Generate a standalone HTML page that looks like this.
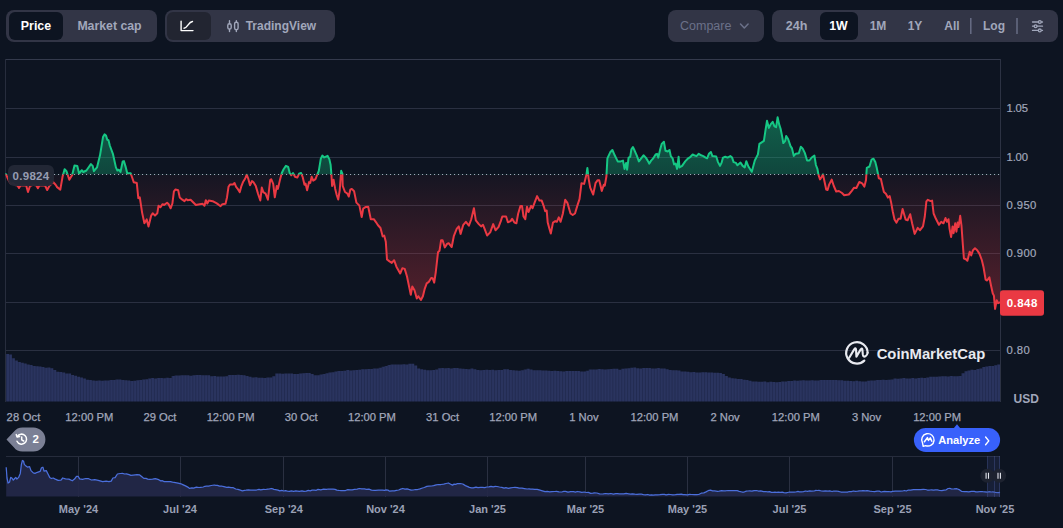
<!DOCTYPE html>
<html><head><meta charset="utf-8"><title>Chart</title>
<style>
*{box-sizing:border-box;margin:0;padding:0}
html,body{width:1063px;height:528px;overflow:hidden;background:#0d1421;font-family:"Liberation Sans",sans-serif;}
#root{position:relative;width:1063px;height:528px;background:#0d1421;color:#a1a7bb;}
.grp{position:absolute;top:10px;height:32px;background:#323546;border-radius:8px;}
.btn{position:absolute;top:2px;height:28px;border-radius:6px;font-size:12px;font-weight:bold;color:#a1a7bb;line-height:28px;text-align:center;white-space:nowrap;}
.btn.on{background:#0d1421;color:#fff;}
.yl{position:absolute;left:1006.5px;font-size:11.3px;line-height:16px;height:16px;color:#a1a7bb;letter-spacing:0.4px;-webkit-text-stroke:0.2px #a1a7bb}
.xl{position:absolute;top:409px;font-size:11.2px;-webkit-text-stroke:0.25px #a1a7bb;line-height:16px;color:#a1a7bb;transform:translateX(-50%);white-space:nowrap}
.ml{position:absolute;top:501px;font-size:11px;font-weight:bold;line-height:16px;color:#9aa0b5;transform:translateX(-50%);white-space:nowrap}
svg{position:absolute;left:0;top:0}
</style></head><body><div id="root">

<!-- toolbar -->
<div class="grp" style="left:6px;width:151px">
  <div class="btn on" style="left:3px;width:54px;font-size:12.4px">Price</div>
  <div class="btn" style="left:59.5px;width:88px;font-size:12.3px">Market cap</div>
</div>
<div class="grp" style="left:165px;width:170px">
  <div class="btn" style="left:2px;width:44px;background:#222531"></div>
  <div class="btn" style="left:80.7px;width:80px;text-align:left">TradingView</div>
</div>
<div class="grp" style="left:668px;width:96px">
  <div class="btn" style="left:12px;width:56px;font-weight:normal;color:#6b7189;text-align:left;font-size:12.5px">Compare</div>
</div>
<div class="grp" style="left:772px;width:286px">
  <div class="btn" style="left:5.5px;width:38px;font-size:12.6px">24h</div>
  <div class="btn on" style="left:47.5px;width:38px;font-size:12.3px">1W</div>
  <div class="btn" style="left:87px;width:38px">1M</div>
  <div class="btn" style="left:124px;width:38px">1Y</div>
  <div class="btn" style="left:161px;width:38px">All</div>
  <div class="btn" style="left:202px;width:40px">Log</div>
</div>

<svg width="1063" height="528" viewBox="0 0 1063 528">
<defs>
  <linearGradient id="gg" x1="0" y1="117" x2="0" y2="174.4" gradientUnits="userSpaceOnUse">
    <stop offset="0" stop-color="#16c784" stop-opacity="0.42"/>
    <stop offset="1" stop-color="#16c784" stop-opacity="0.28"/>
  </linearGradient>
  <linearGradient id="rg" x1="0" y1="174.4" x2="0" y2="310" gradientUnits="userSpaceOnUse">
    <stop offset="0" stop-color="#ea3943" stop-opacity="0.04"/>
    <stop offset="1" stop-color="#ea3943" stop-opacity="0.33"/>
  </linearGradient>
  <clipPath id="up"><rect x="0" y="0" width="1063" height="174.4"/></clipPath>
  <clipPath id="dn"><rect x="0" y="174.4" width="1063" height="400"/></clipPath>
  <pattern id="bars" x="6" y="0" width="2.958" height="10" patternUnits="userSpaceOnUse">
    <rect x="0" y="0" width="2.958" height="10" fill="#2a345f"/>
    <rect x="0" y="0" width="0.9" height="10" fill="#212a50"/>
  </pattern>
</defs>
<!-- toolbar icons -->
<g fill="none" stroke="#fff" stroke-width="1.4" stroke-linecap="round" stroke-linejoin="round">
  <path d="M181.1 21.3 V30.6 H193"/>
  <path d="M184 28.3 C187.6 28 188.3 21.9 192.5 21.5"/>
</g>
<g fill="none" stroke="#a1a7bb" stroke-width="1.4" stroke-linecap="round">
  <rect x="227.8" y="23.8" width="3.4" height="5.3" rx="1.6"/>
  <path d="M229.5 20.8V23.8 M229.5 29.1V31.5"/>
  <rect x="234.6" y="22.2" width="3.5" height="7.5" rx="1.6"/>
  <path d="M236.35 20.8V22.2 M236.35 29.7V31.5"/>
</g>
<path d="M740.5 24 L744.3 28 L748.1 24" fill="none" stroke="#6b7189" stroke-width="1.5" stroke-linecap="round" stroke-linejoin="round"/>
<g stroke="#6b7189" stroke-width="1.4">
  <line x1="970.8" y1="18" x2="970.8" y2="34"/>
  <line x1="1017" y1="18" x2="1017" y2="34"/>
</g>
<g stroke="#a1a7bb" stroke-width="1.3" stroke-linecap="round" fill="#323546">
  <line x1="1032.5" y1="22" x2="1042.5" y2="22"/>
  <line x1="1032.5" y1="26.2" x2="1042.5" y2="26.2"/>
  <line x1="1032.5" y1="30.4" x2="1042.5" y2="30.4"/>
  <circle cx="1039.8" cy="22" r="1.4"/>
  <circle cx="1035.6" cy="26.2" r="1.4"/>
  <circle cx="1039.8" cy="30.4" r="1.4"/>
</g>

<!-- frame + grid -->
<g stroke="#2a3041" stroke-width="1" shape-rendering="crispEdges">
  <line x1="6" x2="1000.5" y1="108.5" y2="108.5"/><line x1="6" x2="1000.5" y1="157.5" y2="157.5"/><line x1="6" x2="1000.5" y1="205.5" y2="205.5"/><line x1="6" x2="1000.5" y1="253.5" y2="253.5"/><line x1="6" x2="1000.5" y1="302.5" y2="302.5"/><line x1="6" x2="1000.5" y1="350.5" y2="350.5"/>
</g>
<g stroke="#323849" stroke-width="1" shape-rendering="crispEdges">
  <line x1="5" x2="1001" y1="59.5" y2="59.5" stroke="#343a4c"/>
  <line x1="5.5" x2="5.5" y1="59" y2="402" stroke="#272d3d"/>
  <line x1="1000.5" x2="1000.5" y1="59" y2="402" stroke="#2c3243"/>
</g>

<!-- volume -->
<path d="M6.00,401.5 L6.00,354.0 L8.96,354.0 L8.96,354.6 L11.92,354.6 L11.92,358.2 L14.88,358.2 L14.88,360.6 L17.83,360.6 L17.83,361.9 L20.79,361.9 L20.79,362.8 L23.75,362.8 L23.75,363.5 L26.71,363.5 L26.71,364.6 L29.67,364.6 L29.67,365.0 L32.62,365.0 L32.62,366.0 L35.58,366.0 L35.58,366.2 L38.54,366.2 L38.54,366.5 L41.50,366.5 L41.50,367.1 L44.46,367.1 L44.46,367.7 L47.42,367.7 L47.42,367.5 L50.38,367.5 L50.38,368.2 L53.33,368.2 L53.33,370.0 L56.29,370.0 L56.29,371.7 L59.25,371.7 L59.25,372.0 L62.21,372.0 L62.21,372.5 L65.17,372.5 L65.17,373.5 L68.12,373.5 L68.12,373.4 L71.08,373.4 L71.08,375.0 L74.04,375.0 L74.04,375.7 L77.00,375.7 L77.00,376.7 L79.96,376.7 L79.96,377.6 L82.92,377.6 L82.92,378.6 L85.88,378.6 L85.88,379.7 L88.83,379.7 L88.83,380.1 L91.79,380.1 L91.79,380.6 L94.75,380.6 L94.75,380.7 L97.71,380.7 L97.71,380.6 L100.67,380.6 L100.67,380.7 L103.62,380.7 L103.62,380.5 L106.58,380.5 L106.58,380.4 L109.54,380.4 L109.54,380.1 L112.50,380.1 L112.50,380.1 L115.46,380.1 L115.46,379.5 L118.42,379.5 L118.42,379.6 L121.38,379.6 L121.38,380.1 L124.33,380.1 L124.33,380.3 L127.29,380.3 L127.29,380.5 L130.25,380.5 L130.25,380.9 L133.21,380.9 L133.21,380.8 L136.17,380.8 L136.17,380.3 L139.13,380.3 L139.12,380.0 L142.08,380.0 L142.08,379.5 L145.04,379.5 L145.04,379.2 L148.00,379.2 L148.00,378.6 L150.96,378.6 L150.96,378.1 L153.92,378.1 L153.92,378.6 L156.88,378.6 L156.88,377.9 L159.83,377.9 L159.83,378.1 L162.79,378.1 L162.79,378.3 L165.75,378.3 L165.75,377.8 L168.71,377.8 L168.71,377.9 L171.67,377.9 L171.67,376.1 L174.63,376.1 L174.62,375.6 L177.58,375.6 L177.58,375.5 L180.54,375.5 L180.54,375.2 L183.50,375.2 L183.50,375.3 L186.46,375.3 L186.46,375.3 L189.42,375.3 L189.42,375.8 L192.38,375.8 L192.38,375.2 L195.33,375.2 L195.33,375.1 L198.29,375.1 L198.29,375.0 L201.25,375.0 L201.25,375.2 L204.21,375.2 L204.21,375.3 L207.17,375.3 L207.17,375.3 L210.13,375.3 L210.12,376.2 L213.08,376.2 L213.08,376.0 L216.04,376.0 L216.04,376.4 L219.00,376.4 L219.00,376.4 L221.96,376.4 L221.96,376.6 L224.92,376.6 L224.92,376.2 L227.88,376.2 L227.88,375.0 L230.83,375.0 L230.83,374.9 L233.79,374.9 L233.79,375.1 L236.75,375.1 L236.75,374.7 L239.71,374.7 L239.71,375.0 L242.67,375.0 L242.67,375.2 L245.63,375.2 L245.62,376.0 L248.58,376.0 L248.58,376.7 L251.54,376.7 L251.54,377.5 L254.50,377.5 L254.50,377.3 L257.46,377.3 L257.46,377.7 L260.42,377.7 L260.42,377.8 L263.38,377.8 L263.38,378.1 L266.33,378.1 L266.33,377.4 L269.29,377.4 L269.29,377.5 L272.25,377.5 L272.25,376.2 L275.21,376.2 L275.21,373.6 L278.17,373.6 L278.17,373.6 L281.12,373.6 L281.12,373.7 L284.08,373.7 L284.08,373.4 L287.04,373.4 L287.04,373.5 L290.00,373.5 L290.00,373.6 L292.96,373.6 L292.96,374.0 L295.92,374.0 L295.92,374.1 L298.88,374.1 L298.88,373.4 L301.83,373.4 L301.83,373.2 L304.79,373.2 L304.79,373.1 L307.75,373.1 L307.75,372.9 L310.71,372.9 L310.71,374.0 L313.67,374.0 L313.67,375.3 L316.62,375.3 L316.62,375.3 L319.58,375.3 L319.58,374.5 L322.54,374.5 L322.54,374.1 L325.50,374.1 L325.50,373.3 L328.46,373.3 L328.46,372.6 L331.42,372.6 L331.42,372.2 L334.38,372.2 L334.38,371.4 L337.33,371.4 L337.33,371.0 L340.29,371.0 L340.29,370.9 L343.25,370.9 L343.25,370.7 L346.21,370.7 L346.21,370.1 L349.17,370.1 L349.17,370.5 L352.12,370.5 L352.12,370.2 L355.08,370.2 L355.08,370.0 L358.04,370.0 L358.04,369.7 L361.00,369.7 L361.00,369.3 L363.96,369.3 L363.96,369.2 L366.92,369.2 L366.92,368.9 L369.88,368.9 L369.88,369.1 L372.83,369.1 L372.83,368.6 L375.79,368.6 L375.79,368.5 L378.75,368.5 L378.75,367.8 L381.71,367.8 L381.71,366.8 L384.67,366.8 L384.67,366.1 L387.62,366.1 L387.62,365.0 L390.58,365.0 L390.58,364.6 L393.54,364.6 L393.54,364.6 L396.50,364.6 L396.50,364.5 L399.46,364.5 L399.46,364.5 L402.42,364.5 L402.42,364.2 L405.38,364.2 L405.38,364.4 L408.33,364.4 L408.33,363.7 L411.29,363.7 L411.29,363.7 L414.25,363.7 L414.25,365.6 L417.21,365.6 L417.21,368.6 L420.17,368.6 L420.17,369.3 L423.12,369.3 L423.12,369.7 L426.08,369.7 L426.08,370.2 L429.04,370.2 L429.04,370.3 L432.00,370.3 L432.00,370.0 L434.96,370.0 L434.96,369.5 L437.92,369.5 L437.92,368.2 L440.88,368.2 L440.88,368.0 L443.83,368.0 L443.83,368.2 L446.79,368.2 L446.79,368.1 L449.75,368.1 L449.75,368.5 L452.71,368.5 L452.71,368.1 L455.67,368.1 L455.67,368.0 L458.62,368.0 L458.62,368.6 L461.58,368.6 L461.58,368.8 L464.54,368.8 L464.54,369.0 L467.50,369.0 L467.50,369.3 L470.46,369.3 L470.46,368.5 L473.42,368.5 L473.42,369.2 L476.38,369.2 L476.38,370.0 L479.33,370.0 L479.33,370.3 L482.29,370.3 L482.29,370.1 L485.25,370.1 L485.25,369.8 L488.21,369.8 L488.21,369.9 L491.17,369.9 L491.17,369.8 L494.12,369.8 L494.12,370.2 L497.08,370.2 L497.08,370.0 L500.04,370.0 L500.04,370.0 L503.00,370.0 L503.00,369.3 L505.96,369.3 L505.96,369.3 L508.92,369.3 L508.92,369.9 L511.88,369.9 L511.88,370.3 L514.83,370.3 L514.83,370.5 L517.79,370.5 L517.79,370.7 L520.75,370.7 L520.75,370.2 L523.71,370.2 L523.71,369.5 L526.67,369.5 L526.67,368.8 L529.63,368.8 L529.62,369.6 L532.58,369.6 L532.58,370.2 L535.54,370.2 L535.54,370.2 L538.50,370.2 L538.50,370.2 L541.46,370.2 L541.46,370.5 L544.42,370.5 L544.42,370.5 L547.38,370.5 L547.38,370.8 L550.33,370.8 L550.33,371.0 L553.29,371.0 L553.29,370.7 L556.25,370.7 L556.25,371.1 L559.21,371.1 L559.21,371.3 L562.17,371.3 L562.17,371.4 L565.13,371.4 L565.12,371.1 L568.08,371.1 L568.08,371.1 L571.04,371.1 L571.04,371.1 L574.00,371.1 L574.00,371.1 L576.96,371.1 L576.96,371.1 L579.92,371.1 L579.92,371.4 L582.88,371.4 L582.88,371.6 L585.83,371.6 L585.83,370.7 L588.79,370.7 L588.79,369.5 L591.75,369.5 L591.75,369.5 L594.71,369.5 L594.71,369.5 L597.67,369.5 L597.67,369.0 L600.63,369.0 L600.62,369.3 L603.58,369.3 L603.58,369.4 L606.54,369.4 L606.54,369.2 L609.50,369.2 L609.50,369.1 L612.46,369.1 L612.46,368.8 L615.42,368.8 L615.42,368.8 L618.38,368.8 L618.38,369.7 L621.33,369.7 L621.33,368.7 L624.29,368.7 L624.29,368.4 L627.25,368.4 L627.25,368.3 L630.21,368.3 L630.21,367.7 L633.17,367.7 L633.17,367.5 L636.13,367.5 L636.12,368.2 L639.08,368.2 L639.08,368.5 L642.04,368.5 L642.04,368.1 L645.00,368.1 L645.00,368.0 L647.96,368.0 L647.96,368.1 L650.92,368.1 L650.92,368.6 L653.88,368.6 L653.88,368.5 L656.83,368.5 L656.83,368.1 L659.79,368.1 L659.79,368.5 L662.75,368.5 L662.75,368.6 L665.71,368.6 L665.71,369.2 L668.67,369.2 L668.67,369.9 L671.63,369.9 L671.62,370.3 L674.58,370.3 L674.58,370.3 L677.54,370.3 L677.54,370.6 L680.50,370.6 L680.50,371.5 L683.46,371.5 L683.46,371.6 L686.42,371.6 L686.42,371.8 L689.38,371.8 L689.38,372.3 L692.33,372.3 L692.33,372.1 L695.29,372.1 L695.29,372.5 L698.25,372.5 L698.25,372.5 L701.21,372.5 L701.21,372.2 L704.17,372.2 L704.17,372.3 L707.13,372.3 L707.12,372.4 L710.08,372.4 L710.08,372.5 L713.04,372.5 L713.04,372.8 L716.00,372.8 L716.00,372.7 L718.96,372.7 L718.96,373.1 L721.92,373.1 L721.92,374.1 L724.88,374.1 L724.88,376.1 L727.83,376.1 L727.83,377.5 L730.79,377.5 L730.79,378.2 L733.75,378.2 L733.75,378.6 L736.71,378.6 L736.71,379.1 L739.67,379.1 L739.67,379.1 L742.63,379.1 L742.62,379.7 L745.58,379.7 L745.58,380.0 L748.54,380.0 L748.54,380.7 L751.50,380.7 L751.50,381.4 L754.46,381.4 L754.46,381.5 L757.42,381.5 L757.42,381.8 L760.38,381.8 L760.38,381.7 L763.33,381.7 L763.33,381.6 L766.29,381.6 L766.29,382.2 L769.25,382.2 L769.25,381.8 L772.21,381.8 L772.21,382.0 L775.17,382.0 L775.17,382.2 L778.13,382.2 L778.12,382.0 L781.08,382.0 L781.08,381.6 L784.04,381.6 L784.04,381.4 L787.00,381.4 L787.00,381.0 L789.96,381.0 L789.96,381.0 L792.92,381.0 L792.92,380.4 L795.88,380.4 L795.88,380.7 L798.83,380.7 L798.83,380.4 L801.79,380.4 L801.79,380.3 L804.75,380.3 L804.75,380.6 L807.71,380.6 L807.71,380.4 L810.67,380.4 L810.67,380.3 L813.63,380.3 L813.62,380.4 L816.58,380.4 L816.58,380.4 L819.54,380.4 L819.54,380.1 L822.50,380.1 L822.50,380.1 L825.46,380.1 L825.46,380.0 L828.42,380.0 L828.42,380.0 L831.38,380.0 L831.38,380.1 L834.33,380.1 L834.33,380.0 L837.29,380.0 L837.29,380.2 L840.25,380.2 L840.25,380.3 L843.21,380.3 L843.21,380.8 L846.17,380.8 L846.17,380.7 L849.13,380.7 L849.12,381.0 L852.08,381.0 L852.08,381.2 L855.04,381.2 L855.04,380.8 L858.00,380.8 L858.00,381.2 L860.96,381.2 L860.96,381.6 L863.92,381.6 L863.92,381.4 L866.88,381.4 L866.88,380.7 L869.83,380.7 L869.83,380.5 L872.79,380.5 L872.79,380.6 L875.75,380.6 L875.75,380.1 L878.71,380.1 L878.71,380.1 L881.67,380.1 L881.67,379.8 L884.63,379.8 L884.62,380.0 L887.58,380.0 L887.58,379.7 L890.54,379.7 L890.54,379.5 L893.50,379.5 L893.50,378.6 L896.46,378.6 L896.46,378.7 L899.42,378.7 L899.42,378.4 L902.38,378.4 L902.38,378.0 L905.33,378.0 L905.33,378.5 L908.29,378.5 L908.29,378.5 L911.25,378.5 L911.25,377.9 L914.21,377.9 L914.21,378.4 L917.17,378.4 L917.17,377.9 L920.13,377.9 L920.12,377.8 L923.08,377.8 L923.08,377.9 L926.04,377.9 L926.04,377.5 L929.00,377.5 L929.00,376.7 L931.96,376.7 L931.96,376.8 L934.92,376.8 L934.92,376.7 L937.88,376.7 L937.88,376.5 L940.83,376.5 L940.83,376.2 L943.79,376.2 L943.79,376.2 L946.75,376.2 L946.75,376.5 L949.71,376.5 L949.71,376.0 L952.67,376.0 L952.67,376.3 L955.63,376.3 L955.62,376.3 L958.58,376.3 L958.58,375.9 L961.54,375.9 L961.54,373.2 L964.50,373.2 L964.50,371.2 L967.46,371.2 L967.46,370.6 L970.42,370.6 L970.42,369.8 L973.38,369.8 L973.38,369.9 L976.33,369.9 L976.33,369.0 L979.29,369.0 L979.29,368.4 L982.25,368.4 L982.25,367.0 L985.21,367.0 L985.21,366.6 L988.17,366.6 L988.17,366.0 L991.13,366.0 L991.12,366.1 L994.08,366.1 L994.08,365.2 L997.04,365.2 L997.04,364.4 L1000.00,364.4 L1000.00,401.5 Z" fill="url(#bars)"/>

<!-- area fills -->
<path d="M6.0,174.2 L7.3,177.3 L9.0,181.0 L11.0,184.0 L13.0,183.0 L15.0,185.0 L17.5,185.5 L19.0,188.0 L20.5,185.5 L25.0,185.2 L26.3,186.0 L28.0,192.0 L30.0,186.0 L33.0,184.8 L36.4,185.5 L37.9,188.3 L39.5,185.3 L45.0,185.5 L47.2,190.0 L49.5,185.8 L50.5,185.0 L52.8,181.8 L55.6,184.8 L57.1,187.1 L60.3,189.6 L62.6,176.5 L64.6,169.2 L66.5,171.2 L69.3,179.7 L72.2,175.0 L74.5,165.6 L77.3,165.9 L79.1,173.5 L81.8,170.2 L83.3,172.0 L86.4,170.5 L90.9,164.1 L92.7,165.9 L93.9,171.2 L97.0,167.4 L100.0,155.3 L103.0,137.1 L104.5,134.4 L106.0,135.6 L107.3,139.8 L108.5,140.2 L109.8,145.5 L112.9,153.8 L115.9,167.4 L117.4,170.5 L118.9,169.7 L120.5,172.0 L122.7,161.4 L123.9,161.1 L125.8,167.4 L127.3,173.5 L128.8,173.2 L130.6,173.2 L131.8,176.5 L133.8,182.3 L136.8,183.0 L138.3,198.2 L139.8,197.4 L142.1,212.6 L144.4,223.2 L146.7,219.4 L148.5,226.5 L151.2,215.6 L152.7,213.3 L155.0,215.6 L157.3,213.3 L158.5,205.8 L160.3,207.3 L162.6,204.2 L164.1,205.0 L167.1,202.7 L168.6,204.2 L170.6,208.3 L172.4,203.5 L173.9,191.4 L175.5,189.5 L178.2,190.2 L179.7,197.4 L182.3,199.7 L184.5,201.2 L186.1,199.2 L187.6,200.2 L190.6,199.7 L193.6,202.7 L195.9,205.0 L199.7,204.2 L202.7,203.8 L204.5,205.8 L205.8,200.2 L207.3,203.5 L208.8,200.5 L212.6,201.2 L216.4,203.2 L218.6,204.7 L220.6,206.2 L222.4,204.2 L225.5,203.8 L227.0,197.4 L228.5,186.8 L230.0,184.5 L233.0,184.5 L234.5,183.0 L236.1,186.8 L237.9,189.1 L239.8,192.1 L241.4,186.1 L242.9,182.3 L245.2,178.5 L246.7,174.7 L248.2,178.5 L250.0,185.3 L252.0,181.1 L253.5,182.3 L255.8,186.1 L258.0,193.6 L260.3,200.5 L261.8,187.6 L263.3,192.1 L265.6,193.6 L267.9,199.7 L270.2,180.0 L271.2,179.2 L273.2,183.8 L274.8,197.3 L276.8,185.9 L277.9,188.9 L279.8,180.6 L281.8,173.0 L283.6,169.2 L285.9,165.9 L288.2,167.0 L289.7,173.0 L291.2,175.3 L293.0,173.0 L295.0,176.8 L297.3,177.6 L299.1,173.8 L301.1,173.0 L302.6,176.8 L304.5,184.7 L305.6,183.6 L307.1,190.2 L309.1,182.1 L310.2,182.9 L311.7,176.8 L313.2,180.6 L315.5,179.1 L317.3,174.5 L318.8,170.8 L320.8,158.6 L322.3,155.6 L324.2,157.4 L327.6,155.9 L329.4,159.4 L330.6,164.7 L331.4,174.5 L332.1,185.9 L333.6,179.8 L335.2,188.9 L336.7,195.0 L338.2,199.5 L339.7,190.5 L341.2,170.8 L342.4,173.8 L342.7,185.9 L345.0,192.0 L347.3,193.5 L348.8,196.5 L350.3,189.7 L351.8,188.9 L354.1,191.2 L356.4,202.6 L359.4,205.6 L361.7,217.0 L363.2,208.6 L365.5,207.1 L368.2,206.8 L370.8,219.2 L373.8,219.2 L376.1,222.3 L377.8,225.0 L380.5,228.0 L382.7,236.4 L384.2,235.6 L385.8,241.7 L387.0,259.5 L389.5,261.4 L391.8,262.9 L394.1,260.2 L396.4,266.7 L400.2,273.5 L402.4,268.2 L404.7,268.9 L407.0,276.5 L409.2,287.1 L410.8,294.7 L412.3,286.4 L414.5,290.2 L416.8,298.5 L418.3,296.2 L420.9,300.0 L422.9,296.2 L424.8,288.6 L426.7,283.3 L428.9,281.8 L431.2,278.0 L432.7,278.3 L434.2,282.6 L435.8,272.0 L438.0,252.3 L439.5,250.8 L441.1,240.2 L442.6,240.2 L444.8,247.4 L447.1,243.9 L448.6,243.2 L451.7,247.0 L453.8,236.2 L456.8,228.6 L458.8,226.4 L460.6,233.9 L463.3,224.8 L465.9,221.8 L468.9,225.6 L471.2,219.5 L473.9,208.2 L475.8,220.3 L478.8,224.1 L481.1,226.4 L483.0,224.8 L484.8,229.4 L487.1,235.5 L490.2,232.4 L493.2,224.1 L495.5,230.2 L498.5,227.1 L500.8,221.1 L502.3,216.5 L506.1,216.5 L507.9,222.3 L510.6,221.1 L512.1,218.8 L514.4,222.6 L516.4,223.3 L518.2,213.5 L520.5,205.9 L522.0,205.9 L523.5,216.5 L525.3,219.2 L527.0,206.7 L528.5,212.0 L531.1,205.9 L532.6,208.2 L534.8,202.1 L537.1,196.1 L539.4,200.6 L541.7,200.6 L543.9,206.7 L545.2,211.2 L546.7,210.5 L547.7,222.6 L549.2,227.9 L550.8,233.5 L553.0,222.6 L555.3,221.1 L556.8,221.8 L558.8,217.3 L560.6,221.8 L562.9,213.5 L565.2,199.8 L567.4,202.9 L570.5,213.5 L572.7,215.0 L575.0,213.5 L577.3,205.9 L579.5,199.1 L581.5,183.2 L584.1,183.9 L586.4,174.8 L587.4,168.0 L588.6,178.6 L590.2,187.7 L593.2,194.5 L595.5,183.2 L597.7,180.2 L599.2,180.2 L601.8,190.9 L603.8,184.8 L604.8,185.6 L606.4,176.5 L607.4,158.3 L610.2,152.3 L612.4,150.0 L614.7,155.3 L617.7,161.4 L620.8,161.4 L623.0,160.6 L624.5,168.9 L626.1,162.9 L627.1,169.7 L628.6,157.6 L630.2,156.8 L631.4,149.2 L632.9,147.0 L634.7,150.8 L636.7,155.3 L638.9,161.4 L641.2,158.3 L643.5,155.3 L645.8,157.6 L647.7,160.6 L649.2,163.6 L651.1,160.6 L653.3,158.3 L655.6,154.5 L657.1,153.8 L658.3,157.6 L660.2,149.2 L661.7,143.9 L663.9,141.7 L665.5,150.8 L667.7,151.5 L669.5,150.0 L670.8,156.1 L672.6,158.3 L674.1,164.4 L675.6,163.6 L677.1,168.9 L678.6,156.8 L679.5,167.4 L682.1,165.9 L685.2,161.4 L688.2,158.3 L690.5,156.8 L692.7,154.5 L694.2,155.3 L696.5,156.1 L698.8,153.8 L701.1,155.3 L703.3,156.1 L705.6,157.6 L707.1,158.3 L708.9,153.8 L710.9,152.0 L712.4,156.1 L716.2,156.5 L718.0,162.1 L720.0,165.9 L721.5,162.9 L723.0,157.6 L725.3,156.8 L727.6,157.6 L730.3,156.1 L732.1,157.6 L733.6,162.1 L735.9,162.9 L737.4,165.2 L740.5,162.6 L742.7,165.9 L744.7,167.4 L746.3,161.2 L748.4,166.5 L751.8,171.8 L754.8,160.5 L757.9,154.4 L759.4,143.8 L761.7,142.3 L763.9,140.8 L765.5,130.2 L767.0,120.8 L768.9,127.9 L770.8,124.1 L772.7,121.8 L774.5,126.4 L776.1,127.2 L777.6,117.3 L779.1,124.1 L780.6,128.7 L782.1,136.2 L783.3,143.1 L785.2,140.8 L786.2,135.9 L788.2,139.3 L790.5,146.1 L792.0,148.4 L793.8,155.9 L795.8,153.7 L798.8,153.2 L800.8,146.8 L802.6,148.4 L804.8,152.9 L807.1,160.5 L809.4,160.5 L811.7,157.5 L814.4,155.6 L815.9,165.0 L817.4,168.8 L818.5,174.9 L820.0,179.4 L821.5,177.2 L823.0,174.4 L824.5,181.5 L826.2,189.5 L827.6,190.0 L829.1,184.7 L831.7,179.6 L833.8,186.0 L836.2,191.5 L838.9,191.0 L842.0,193.0 L844.2,195.3 L848.8,194.5 L851.8,190.8 L854.1,187.7 L856.4,188.0 L859.3,182.0 L862.2,183.4 L864.4,186.6 L866.0,180.0 L866.8,167.8 L868.5,167.0 L869.5,166.5 L871.5,159.7 L873.5,158.7 L875.3,162.0 L876.8,168.1 L877.8,173.0 L878.8,178.3 L880.9,179.0 L882.5,186.2 L883.9,192.0 L885.9,193.8 L887.9,197.6 L889.7,196.1 L891.2,202.9 L892.7,211.2 L894.5,219.5 L896.5,222.6 L898.5,218.8 L900.6,218.8 L902.6,208.9 L904.1,214.2 L905.6,219.5 L907.6,220.3 L910.2,214.2 L912.1,223.3 L914.7,233.9 L917.7,227.9 L920.0,230.2 L923.0,226.4 L924.8,216.5 L926.4,201.4 L927.9,199.8 L930.6,201.1 L932.1,200.6 L933.6,213.5 L935.9,218.8 L938.9,224.8 L941.2,221.8 L943.5,223.3 L945.5,218.0 L947.0,221.8 L948.5,219.2 L949.5,228.6 L951.1,237.0 L952.6,226.4 L953.6,233.2 L955.2,223.3 L956.4,231.7 L957.6,222.6 L958.6,227.1 L960.2,215.8 L961.5,226.0 L962.8,244.1 L963.9,258.5 L965.9,259.2 L967.4,260.8 L969.7,251.7 L971.2,255.5 L973.0,250.2 L975.0,248.3 L977.2,250.2 L979.5,253.9 L981.8,260.0 L983.6,267.6 L985.6,279.7 L987.1,280.5 L989.4,277.4 L990.9,285.0 L992.7,293.3 L993.9,295.6 L995.1,308.9 L996.7,300.2 L998.2,303.2 L1000.0,302.4 L1000.0,174.4 L6.0,174.4 Z" fill="url(#gg)" clip-path="url(#up)"/>
<path d="M6.0,174.2 L7.3,177.3 L9.0,181.0 L11.0,184.0 L13.0,183.0 L15.0,185.0 L17.5,185.5 L19.0,188.0 L20.5,185.5 L25.0,185.2 L26.3,186.0 L28.0,192.0 L30.0,186.0 L33.0,184.8 L36.4,185.5 L37.9,188.3 L39.5,185.3 L45.0,185.5 L47.2,190.0 L49.5,185.8 L50.5,185.0 L52.8,181.8 L55.6,184.8 L57.1,187.1 L60.3,189.6 L62.6,176.5 L64.6,169.2 L66.5,171.2 L69.3,179.7 L72.2,175.0 L74.5,165.6 L77.3,165.9 L79.1,173.5 L81.8,170.2 L83.3,172.0 L86.4,170.5 L90.9,164.1 L92.7,165.9 L93.9,171.2 L97.0,167.4 L100.0,155.3 L103.0,137.1 L104.5,134.4 L106.0,135.6 L107.3,139.8 L108.5,140.2 L109.8,145.5 L112.9,153.8 L115.9,167.4 L117.4,170.5 L118.9,169.7 L120.5,172.0 L122.7,161.4 L123.9,161.1 L125.8,167.4 L127.3,173.5 L128.8,173.2 L130.6,173.2 L131.8,176.5 L133.8,182.3 L136.8,183.0 L138.3,198.2 L139.8,197.4 L142.1,212.6 L144.4,223.2 L146.7,219.4 L148.5,226.5 L151.2,215.6 L152.7,213.3 L155.0,215.6 L157.3,213.3 L158.5,205.8 L160.3,207.3 L162.6,204.2 L164.1,205.0 L167.1,202.7 L168.6,204.2 L170.6,208.3 L172.4,203.5 L173.9,191.4 L175.5,189.5 L178.2,190.2 L179.7,197.4 L182.3,199.7 L184.5,201.2 L186.1,199.2 L187.6,200.2 L190.6,199.7 L193.6,202.7 L195.9,205.0 L199.7,204.2 L202.7,203.8 L204.5,205.8 L205.8,200.2 L207.3,203.5 L208.8,200.5 L212.6,201.2 L216.4,203.2 L218.6,204.7 L220.6,206.2 L222.4,204.2 L225.5,203.8 L227.0,197.4 L228.5,186.8 L230.0,184.5 L233.0,184.5 L234.5,183.0 L236.1,186.8 L237.9,189.1 L239.8,192.1 L241.4,186.1 L242.9,182.3 L245.2,178.5 L246.7,174.7 L248.2,178.5 L250.0,185.3 L252.0,181.1 L253.5,182.3 L255.8,186.1 L258.0,193.6 L260.3,200.5 L261.8,187.6 L263.3,192.1 L265.6,193.6 L267.9,199.7 L270.2,180.0 L271.2,179.2 L273.2,183.8 L274.8,197.3 L276.8,185.9 L277.9,188.9 L279.8,180.6 L281.8,173.0 L283.6,169.2 L285.9,165.9 L288.2,167.0 L289.7,173.0 L291.2,175.3 L293.0,173.0 L295.0,176.8 L297.3,177.6 L299.1,173.8 L301.1,173.0 L302.6,176.8 L304.5,184.7 L305.6,183.6 L307.1,190.2 L309.1,182.1 L310.2,182.9 L311.7,176.8 L313.2,180.6 L315.5,179.1 L317.3,174.5 L318.8,170.8 L320.8,158.6 L322.3,155.6 L324.2,157.4 L327.6,155.9 L329.4,159.4 L330.6,164.7 L331.4,174.5 L332.1,185.9 L333.6,179.8 L335.2,188.9 L336.7,195.0 L338.2,199.5 L339.7,190.5 L341.2,170.8 L342.4,173.8 L342.7,185.9 L345.0,192.0 L347.3,193.5 L348.8,196.5 L350.3,189.7 L351.8,188.9 L354.1,191.2 L356.4,202.6 L359.4,205.6 L361.7,217.0 L363.2,208.6 L365.5,207.1 L368.2,206.8 L370.8,219.2 L373.8,219.2 L376.1,222.3 L377.8,225.0 L380.5,228.0 L382.7,236.4 L384.2,235.6 L385.8,241.7 L387.0,259.5 L389.5,261.4 L391.8,262.9 L394.1,260.2 L396.4,266.7 L400.2,273.5 L402.4,268.2 L404.7,268.9 L407.0,276.5 L409.2,287.1 L410.8,294.7 L412.3,286.4 L414.5,290.2 L416.8,298.5 L418.3,296.2 L420.9,300.0 L422.9,296.2 L424.8,288.6 L426.7,283.3 L428.9,281.8 L431.2,278.0 L432.7,278.3 L434.2,282.6 L435.8,272.0 L438.0,252.3 L439.5,250.8 L441.1,240.2 L442.6,240.2 L444.8,247.4 L447.1,243.9 L448.6,243.2 L451.7,247.0 L453.8,236.2 L456.8,228.6 L458.8,226.4 L460.6,233.9 L463.3,224.8 L465.9,221.8 L468.9,225.6 L471.2,219.5 L473.9,208.2 L475.8,220.3 L478.8,224.1 L481.1,226.4 L483.0,224.8 L484.8,229.4 L487.1,235.5 L490.2,232.4 L493.2,224.1 L495.5,230.2 L498.5,227.1 L500.8,221.1 L502.3,216.5 L506.1,216.5 L507.9,222.3 L510.6,221.1 L512.1,218.8 L514.4,222.6 L516.4,223.3 L518.2,213.5 L520.5,205.9 L522.0,205.9 L523.5,216.5 L525.3,219.2 L527.0,206.7 L528.5,212.0 L531.1,205.9 L532.6,208.2 L534.8,202.1 L537.1,196.1 L539.4,200.6 L541.7,200.6 L543.9,206.7 L545.2,211.2 L546.7,210.5 L547.7,222.6 L549.2,227.9 L550.8,233.5 L553.0,222.6 L555.3,221.1 L556.8,221.8 L558.8,217.3 L560.6,221.8 L562.9,213.5 L565.2,199.8 L567.4,202.9 L570.5,213.5 L572.7,215.0 L575.0,213.5 L577.3,205.9 L579.5,199.1 L581.5,183.2 L584.1,183.9 L586.4,174.8 L587.4,168.0 L588.6,178.6 L590.2,187.7 L593.2,194.5 L595.5,183.2 L597.7,180.2 L599.2,180.2 L601.8,190.9 L603.8,184.8 L604.8,185.6 L606.4,176.5 L607.4,158.3 L610.2,152.3 L612.4,150.0 L614.7,155.3 L617.7,161.4 L620.8,161.4 L623.0,160.6 L624.5,168.9 L626.1,162.9 L627.1,169.7 L628.6,157.6 L630.2,156.8 L631.4,149.2 L632.9,147.0 L634.7,150.8 L636.7,155.3 L638.9,161.4 L641.2,158.3 L643.5,155.3 L645.8,157.6 L647.7,160.6 L649.2,163.6 L651.1,160.6 L653.3,158.3 L655.6,154.5 L657.1,153.8 L658.3,157.6 L660.2,149.2 L661.7,143.9 L663.9,141.7 L665.5,150.8 L667.7,151.5 L669.5,150.0 L670.8,156.1 L672.6,158.3 L674.1,164.4 L675.6,163.6 L677.1,168.9 L678.6,156.8 L679.5,167.4 L682.1,165.9 L685.2,161.4 L688.2,158.3 L690.5,156.8 L692.7,154.5 L694.2,155.3 L696.5,156.1 L698.8,153.8 L701.1,155.3 L703.3,156.1 L705.6,157.6 L707.1,158.3 L708.9,153.8 L710.9,152.0 L712.4,156.1 L716.2,156.5 L718.0,162.1 L720.0,165.9 L721.5,162.9 L723.0,157.6 L725.3,156.8 L727.6,157.6 L730.3,156.1 L732.1,157.6 L733.6,162.1 L735.9,162.9 L737.4,165.2 L740.5,162.6 L742.7,165.9 L744.7,167.4 L746.3,161.2 L748.4,166.5 L751.8,171.8 L754.8,160.5 L757.9,154.4 L759.4,143.8 L761.7,142.3 L763.9,140.8 L765.5,130.2 L767.0,120.8 L768.9,127.9 L770.8,124.1 L772.7,121.8 L774.5,126.4 L776.1,127.2 L777.6,117.3 L779.1,124.1 L780.6,128.7 L782.1,136.2 L783.3,143.1 L785.2,140.8 L786.2,135.9 L788.2,139.3 L790.5,146.1 L792.0,148.4 L793.8,155.9 L795.8,153.7 L798.8,153.2 L800.8,146.8 L802.6,148.4 L804.8,152.9 L807.1,160.5 L809.4,160.5 L811.7,157.5 L814.4,155.6 L815.9,165.0 L817.4,168.8 L818.5,174.9 L820.0,179.4 L821.5,177.2 L823.0,174.4 L824.5,181.5 L826.2,189.5 L827.6,190.0 L829.1,184.7 L831.7,179.6 L833.8,186.0 L836.2,191.5 L838.9,191.0 L842.0,193.0 L844.2,195.3 L848.8,194.5 L851.8,190.8 L854.1,187.7 L856.4,188.0 L859.3,182.0 L862.2,183.4 L864.4,186.6 L866.0,180.0 L866.8,167.8 L868.5,167.0 L869.5,166.5 L871.5,159.7 L873.5,158.7 L875.3,162.0 L876.8,168.1 L877.8,173.0 L878.8,178.3 L880.9,179.0 L882.5,186.2 L883.9,192.0 L885.9,193.8 L887.9,197.6 L889.7,196.1 L891.2,202.9 L892.7,211.2 L894.5,219.5 L896.5,222.6 L898.5,218.8 L900.6,218.8 L902.6,208.9 L904.1,214.2 L905.6,219.5 L907.6,220.3 L910.2,214.2 L912.1,223.3 L914.7,233.9 L917.7,227.9 L920.0,230.2 L923.0,226.4 L924.8,216.5 L926.4,201.4 L927.9,199.8 L930.6,201.1 L932.1,200.6 L933.6,213.5 L935.9,218.8 L938.9,224.8 L941.2,221.8 L943.5,223.3 L945.5,218.0 L947.0,221.8 L948.5,219.2 L949.5,228.6 L951.1,237.0 L952.6,226.4 L953.6,233.2 L955.2,223.3 L956.4,231.7 L957.6,222.6 L958.6,227.1 L960.2,215.8 L961.5,226.0 L962.8,244.1 L963.9,258.5 L965.9,259.2 L967.4,260.8 L969.7,251.7 L971.2,255.5 L973.0,250.2 L975.0,248.3 L977.2,250.2 L979.5,253.9 L981.8,260.0 L983.6,267.6 L985.6,279.7 L987.1,280.5 L989.4,277.4 L990.9,285.0 L992.7,293.3 L993.9,295.6 L995.1,308.9 L996.7,300.2 L998.2,303.2 L1000.0,302.4 L1000.0,174.4 L6.0,174.4 Z" fill="url(#rg)" clip-path="url(#dn)"/>
<!-- baseline -->
<line x1="6" x2="1000" y1="174.5" y2="174.5" stroke="#a3a9bb" stroke-width="1" stroke-dasharray="1.1 2.9" />
<!-- line -->
<path d="M6.0,174.2 L7.3,177.3 L9.0,181.0 L11.0,184.0 L13.0,183.0 L15.0,185.0 L17.5,185.5 L19.0,188.0 L20.5,185.5 L25.0,185.2 L26.3,186.0 L28.0,192.0 L30.0,186.0 L33.0,184.8 L36.4,185.5 L37.9,188.3 L39.5,185.3 L45.0,185.5 L47.2,190.0 L49.5,185.8 L50.5,185.0 L52.8,181.8 L55.6,184.8 L57.1,187.1 L60.3,189.6 L62.6,176.5 L64.6,169.2 L66.5,171.2 L69.3,179.7 L72.2,175.0 L74.5,165.6 L77.3,165.9 L79.1,173.5 L81.8,170.2 L83.3,172.0 L86.4,170.5 L90.9,164.1 L92.7,165.9 L93.9,171.2 L97.0,167.4 L100.0,155.3 L103.0,137.1 L104.5,134.4 L106.0,135.6 L107.3,139.8 L108.5,140.2 L109.8,145.5 L112.9,153.8 L115.9,167.4 L117.4,170.5 L118.9,169.7 L120.5,172.0 L122.7,161.4 L123.9,161.1 L125.8,167.4 L127.3,173.5 L128.8,173.2 L130.6,173.2 L131.8,176.5 L133.8,182.3 L136.8,183.0 L138.3,198.2 L139.8,197.4 L142.1,212.6 L144.4,223.2 L146.7,219.4 L148.5,226.5 L151.2,215.6 L152.7,213.3 L155.0,215.6 L157.3,213.3 L158.5,205.8 L160.3,207.3 L162.6,204.2 L164.1,205.0 L167.1,202.7 L168.6,204.2 L170.6,208.3 L172.4,203.5 L173.9,191.4 L175.5,189.5 L178.2,190.2 L179.7,197.4 L182.3,199.7 L184.5,201.2 L186.1,199.2 L187.6,200.2 L190.6,199.7 L193.6,202.7 L195.9,205.0 L199.7,204.2 L202.7,203.8 L204.5,205.8 L205.8,200.2 L207.3,203.5 L208.8,200.5 L212.6,201.2 L216.4,203.2 L218.6,204.7 L220.6,206.2 L222.4,204.2 L225.5,203.8 L227.0,197.4 L228.5,186.8 L230.0,184.5 L233.0,184.5 L234.5,183.0 L236.1,186.8 L237.9,189.1 L239.8,192.1 L241.4,186.1 L242.9,182.3 L245.2,178.5 L246.7,174.7 L248.2,178.5 L250.0,185.3 L252.0,181.1 L253.5,182.3 L255.8,186.1 L258.0,193.6 L260.3,200.5 L261.8,187.6 L263.3,192.1 L265.6,193.6 L267.9,199.7 L270.2,180.0 L271.2,179.2 L273.2,183.8 L274.8,197.3 L276.8,185.9 L277.9,188.9 L279.8,180.6 L281.8,173.0 L283.6,169.2 L285.9,165.9 L288.2,167.0 L289.7,173.0 L291.2,175.3 L293.0,173.0 L295.0,176.8 L297.3,177.6 L299.1,173.8 L301.1,173.0 L302.6,176.8 L304.5,184.7 L305.6,183.6 L307.1,190.2 L309.1,182.1 L310.2,182.9 L311.7,176.8 L313.2,180.6 L315.5,179.1 L317.3,174.5 L318.8,170.8 L320.8,158.6 L322.3,155.6 L324.2,157.4 L327.6,155.9 L329.4,159.4 L330.6,164.7 L331.4,174.5 L332.1,185.9 L333.6,179.8 L335.2,188.9 L336.7,195.0 L338.2,199.5 L339.7,190.5 L341.2,170.8 L342.4,173.8 L342.7,185.9 L345.0,192.0 L347.3,193.5 L348.8,196.5 L350.3,189.7 L351.8,188.9 L354.1,191.2 L356.4,202.6 L359.4,205.6 L361.7,217.0 L363.2,208.6 L365.5,207.1 L368.2,206.8 L370.8,219.2 L373.8,219.2 L376.1,222.3 L377.8,225.0 L380.5,228.0 L382.7,236.4 L384.2,235.6 L385.8,241.7 L387.0,259.5 L389.5,261.4 L391.8,262.9 L394.1,260.2 L396.4,266.7 L400.2,273.5 L402.4,268.2 L404.7,268.9 L407.0,276.5 L409.2,287.1 L410.8,294.7 L412.3,286.4 L414.5,290.2 L416.8,298.5 L418.3,296.2 L420.9,300.0 L422.9,296.2 L424.8,288.6 L426.7,283.3 L428.9,281.8 L431.2,278.0 L432.7,278.3 L434.2,282.6 L435.8,272.0 L438.0,252.3 L439.5,250.8 L441.1,240.2 L442.6,240.2 L444.8,247.4 L447.1,243.9 L448.6,243.2 L451.7,247.0 L453.8,236.2 L456.8,228.6 L458.8,226.4 L460.6,233.9 L463.3,224.8 L465.9,221.8 L468.9,225.6 L471.2,219.5 L473.9,208.2 L475.8,220.3 L478.8,224.1 L481.1,226.4 L483.0,224.8 L484.8,229.4 L487.1,235.5 L490.2,232.4 L493.2,224.1 L495.5,230.2 L498.5,227.1 L500.8,221.1 L502.3,216.5 L506.1,216.5 L507.9,222.3 L510.6,221.1 L512.1,218.8 L514.4,222.6 L516.4,223.3 L518.2,213.5 L520.5,205.9 L522.0,205.9 L523.5,216.5 L525.3,219.2 L527.0,206.7 L528.5,212.0 L531.1,205.9 L532.6,208.2 L534.8,202.1 L537.1,196.1 L539.4,200.6 L541.7,200.6 L543.9,206.7 L545.2,211.2 L546.7,210.5 L547.7,222.6 L549.2,227.9 L550.8,233.5 L553.0,222.6 L555.3,221.1 L556.8,221.8 L558.8,217.3 L560.6,221.8 L562.9,213.5 L565.2,199.8 L567.4,202.9 L570.5,213.5 L572.7,215.0 L575.0,213.5 L577.3,205.9 L579.5,199.1 L581.5,183.2 L584.1,183.9 L586.4,174.8 L587.4,168.0 L588.6,178.6 L590.2,187.7 L593.2,194.5 L595.5,183.2 L597.7,180.2 L599.2,180.2 L601.8,190.9 L603.8,184.8 L604.8,185.6 L606.4,176.5 L607.4,158.3 L610.2,152.3 L612.4,150.0 L614.7,155.3 L617.7,161.4 L620.8,161.4 L623.0,160.6 L624.5,168.9 L626.1,162.9 L627.1,169.7 L628.6,157.6 L630.2,156.8 L631.4,149.2 L632.9,147.0 L634.7,150.8 L636.7,155.3 L638.9,161.4 L641.2,158.3 L643.5,155.3 L645.8,157.6 L647.7,160.6 L649.2,163.6 L651.1,160.6 L653.3,158.3 L655.6,154.5 L657.1,153.8 L658.3,157.6 L660.2,149.2 L661.7,143.9 L663.9,141.7 L665.5,150.8 L667.7,151.5 L669.5,150.0 L670.8,156.1 L672.6,158.3 L674.1,164.4 L675.6,163.6 L677.1,168.9 L678.6,156.8 L679.5,167.4 L682.1,165.9 L685.2,161.4 L688.2,158.3 L690.5,156.8 L692.7,154.5 L694.2,155.3 L696.5,156.1 L698.8,153.8 L701.1,155.3 L703.3,156.1 L705.6,157.6 L707.1,158.3 L708.9,153.8 L710.9,152.0 L712.4,156.1 L716.2,156.5 L718.0,162.1 L720.0,165.9 L721.5,162.9 L723.0,157.6 L725.3,156.8 L727.6,157.6 L730.3,156.1 L732.1,157.6 L733.6,162.1 L735.9,162.9 L737.4,165.2 L740.5,162.6 L742.7,165.9 L744.7,167.4 L746.3,161.2 L748.4,166.5 L751.8,171.8 L754.8,160.5 L757.9,154.4 L759.4,143.8 L761.7,142.3 L763.9,140.8 L765.5,130.2 L767.0,120.8 L768.9,127.9 L770.8,124.1 L772.7,121.8 L774.5,126.4 L776.1,127.2 L777.6,117.3 L779.1,124.1 L780.6,128.7 L782.1,136.2 L783.3,143.1 L785.2,140.8 L786.2,135.9 L788.2,139.3 L790.5,146.1 L792.0,148.4 L793.8,155.9 L795.8,153.7 L798.8,153.2 L800.8,146.8 L802.6,148.4 L804.8,152.9 L807.1,160.5 L809.4,160.5 L811.7,157.5 L814.4,155.6 L815.9,165.0 L817.4,168.8 L818.5,174.9 L820.0,179.4 L821.5,177.2 L823.0,174.4 L824.5,181.5 L826.2,189.5 L827.6,190.0 L829.1,184.7 L831.7,179.6 L833.8,186.0 L836.2,191.5 L838.9,191.0 L842.0,193.0 L844.2,195.3 L848.8,194.5 L851.8,190.8 L854.1,187.7 L856.4,188.0 L859.3,182.0 L862.2,183.4 L864.4,186.6 L866.0,180.0 L866.8,167.8 L868.5,167.0 L869.5,166.5 L871.5,159.7 L873.5,158.7 L875.3,162.0 L876.8,168.1 L877.8,173.0 L878.8,178.3 L880.9,179.0 L882.5,186.2 L883.9,192.0 L885.9,193.8 L887.9,197.6 L889.7,196.1 L891.2,202.9 L892.7,211.2 L894.5,219.5 L896.5,222.6 L898.5,218.8 L900.6,218.8 L902.6,208.9 L904.1,214.2 L905.6,219.5 L907.6,220.3 L910.2,214.2 L912.1,223.3 L914.7,233.9 L917.7,227.9 L920.0,230.2 L923.0,226.4 L924.8,216.5 L926.4,201.4 L927.9,199.8 L930.6,201.1 L932.1,200.6 L933.6,213.5 L935.9,218.8 L938.9,224.8 L941.2,221.8 L943.5,223.3 L945.5,218.0 L947.0,221.8 L948.5,219.2 L949.5,228.6 L951.1,237.0 L952.6,226.4 L953.6,233.2 L955.2,223.3 L956.4,231.7 L957.6,222.6 L958.6,227.1 L960.2,215.8 L961.5,226.0 L962.8,244.1 L963.9,258.5 L965.9,259.2 L967.4,260.8 L969.7,251.7 L971.2,255.5 L973.0,250.2 L975.0,248.3 L977.2,250.2 L979.5,253.9 L981.8,260.0 L983.6,267.6 L985.6,279.7 L987.1,280.5 L989.4,277.4 L990.9,285.0 L992.7,293.3 L993.9,295.6 L995.1,308.9 L996.7,300.2 L998.2,303.2 L1000.0,302.4" fill="none" stroke="#16c784" stroke-width="2" stroke-linejoin="round" stroke-linecap="round" clip-path="url(#up)"/>
<path d="M6.0,174.2 L7.3,177.3 L9.0,181.0 L11.0,184.0 L13.0,183.0 L15.0,185.0 L17.5,185.5 L19.0,188.0 L20.5,185.5 L25.0,185.2 L26.3,186.0 L28.0,192.0 L30.0,186.0 L33.0,184.8 L36.4,185.5 L37.9,188.3 L39.5,185.3 L45.0,185.5 L47.2,190.0 L49.5,185.8 L50.5,185.0 L52.8,181.8 L55.6,184.8 L57.1,187.1 L60.3,189.6 L62.6,176.5 L64.6,169.2 L66.5,171.2 L69.3,179.7 L72.2,175.0 L74.5,165.6 L77.3,165.9 L79.1,173.5 L81.8,170.2 L83.3,172.0 L86.4,170.5 L90.9,164.1 L92.7,165.9 L93.9,171.2 L97.0,167.4 L100.0,155.3 L103.0,137.1 L104.5,134.4 L106.0,135.6 L107.3,139.8 L108.5,140.2 L109.8,145.5 L112.9,153.8 L115.9,167.4 L117.4,170.5 L118.9,169.7 L120.5,172.0 L122.7,161.4 L123.9,161.1 L125.8,167.4 L127.3,173.5 L128.8,173.2 L130.6,173.2 L131.8,176.5 L133.8,182.3 L136.8,183.0 L138.3,198.2 L139.8,197.4 L142.1,212.6 L144.4,223.2 L146.7,219.4 L148.5,226.5 L151.2,215.6 L152.7,213.3 L155.0,215.6 L157.3,213.3 L158.5,205.8 L160.3,207.3 L162.6,204.2 L164.1,205.0 L167.1,202.7 L168.6,204.2 L170.6,208.3 L172.4,203.5 L173.9,191.4 L175.5,189.5 L178.2,190.2 L179.7,197.4 L182.3,199.7 L184.5,201.2 L186.1,199.2 L187.6,200.2 L190.6,199.7 L193.6,202.7 L195.9,205.0 L199.7,204.2 L202.7,203.8 L204.5,205.8 L205.8,200.2 L207.3,203.5 L208.8,200.5 L212.6,201.2 L216.4,203.2 L218.6,204.7 L220.6,206.2 L222.4,204.2 L225.5,203.8 L227.0,197.4 L228.5,186.8 L230.0,184.5 L233.0,184.5 L234.5,183.0 L236.1,186.8 L237.9,189.1 L239.8,192.1 L241.4,186.1 L242.9,182.3 L245.2,178.5 L246.7,174.7 L248.2,178.5 L250.0,185.3 L252.0,181.1 L253.5,182.3 L255.8,186.1 L258.0,193.6 L260.3,200.5 L261.8,187.6 L263.3,192.1 L265.6,193.6 L267.9,199.7 L270.2,180.0 L271.2,179.2 L273.2,183.8 L274.8,197.3 L276.8,185.9 L277.9,188.9 L279.8,180.6 L281.8,173.0 L283.6,169.2 L285.9,165.9 L288.2,167.0 L289.7,173.0 L291.2,175.3 L293.0,173.0 L295.0,176.8 L297.3,177.6 L299.1,173.8 L301.1,173.0 L302.6,176.8 L304.5,184.7 L305.6,183.6 L307.1,190.2 L309.1,182.1 L310.2,182.9 L311.7,176.8 L313.2,180.6 L315.5,179.1 L317.3,174.5 L318.8,170.8 L320.8,158.6 L322.3,155.6 L324.2,157.4 L327.6,155.9 L329.4,159.4 L330.6,164.7 L331.4,174.5 L332.1,185.9 L333.6,179.8 L335.2,188.9 L336.7,195.0 L338.2,199.5 L339.7,190.5 L341.2,170.8 L342.4,173.8 L342.7,185.9 L345.0,192.0 L347.3,193.5 L348.8,196.5 L350.3,189.7 L351.8,188.9 L354.1,191.2 L356.4,202.6 L359.4,205.6 L361.7,217.0 L363.2,208.6 L365.5,207.1 L368.2,206.8 L370.8,219.2 L373.8,219.2 L376.1,222.3 L377.8,225.0 L380.5,228.0 L382.7,236.4 L384.2,235.6 L385.8,241.7 L387.0,259.5 L389.5,261.4 L391.8,262.9 L394.1,260.2 L396.4,266.7 L400.2,273.5 L402.4,268.2 L404.7,268.9 L407.0,276.5 L409.2,287.1 L410.8,294.7 L412.3,286.4 L414.5,290.2 L416.8,298.5 L418.3,296.2 L420.9,300.0 L422.9,296.2 L424.8,288.6 L426.7,283.3 L428.9,281.8 L431.2,278.0 L432.7,278.3 L434.2,282.6 L435.8,272.0 L438.0,252.3 L439.5,250.8 L441.1,240.2 L442.6,240.2 L444.8,247.4 L447.1,243.9 L448.6,243.2 L451.7,247.0 L453.8,236.2 L456.8,228.6 L458.8,226.4 L460.6,233.9 L463.3,224.8 L465.9,221.8 L468.9,225.6 L471.2,219.5 L473.9,208.2 L475.8,220.3 L478.8,224.1 L481.1,226.4 L483.0,224.8 L484.8,229.4 L487.1,235.5 L490.2,232.4 L493.2,224.1 L495.5,230.2 L498.5,227.1 L500.8,221.1 L502.3,216.5 L506.1,216.5 L507.9,222.3 L510.6,221.1 L512.1,218.8 L514.4,222.6 L516.4,223.3 L518.2,213.5 L520.5,205.9 L522.0,205.9 L523.5,216.5 L525.3,219.2 L527.0,206.7 L528.5,212.0 L531.1,205.9 L532.6,208.2 L534.8,202.1 L537.1,196.1 L539.4,200.6 L541.7,200.6 L543.9,206.7 L545.2,211.2 L546.7,210.5 L547.7,222.6 L549.2,227.9 L550.8,233.5 L553.0,222.6 L555.3,221.1 L556.8,221.8 L558.8,217.3 L560.6,221.8 L562.9,213.5 L565.2,199.8 L567.4,202.9 L570.5,213.5 L572.7,215.0 L575.0,213.5 L577.3,205.9 L579.5,199.1 L581.5,183.2 L584.1,183.9 L586.4,174.8 L587.4,168.0 L588.6,178.6 L590.2,187.7 L593.2,194.5 L595.5,183.2 L597.7,180.2 L599.2,180.2 L601.8,190.9 L603.8,184.8 L604.8,185.6 L606.4,176.5 L607.4,158.3 L610.2,152.3 L612.4,150.0 L614.7,155.3 L617.7,161.4 L620.8,161.4 L623.0,160.6 L624.5,168.9 L626.1,162.9 L627.1,169.7 L628.6,157.6 L630.2,156.8 L631.4,149.2 L632.9,147.0 L634.7,150.8 L636.7,155.3 L638.9,161.4 L641.2,158.3 L643.5,155.3 L645.8,157.6 L647.7,160.6 L649.2,163.6 L651.1,160.6 L653.3,158.3 L655.6,154.5 L657.1,153.8 L658.3,157.6 L660.2,149.2 L661.7,143.9 L663.9,141.7 L665.5,150.8 L667.7,151.5 L669.5,150.0 L670.8,156.1 L672.6,158.3 L674.1,164.4 L675.6,163.6 L677.1,168.9 L678.6,156.8 L679.5,167.4 L682.1,165.9 L685.2,161.4 L688.2,158.3 L690.5,156.8 L692.7,154.5 L694.2,155.3 L696.5,156.1 L698.8,153.8 L701.1,155.3 L703.3,156.1 L705.6,157.6 L707.1,158.3 L708.9,153.8 L710.9,152.0 L712.4,156.1 L716.2,156.5 L718.0,162.1 L720.0,165.9 L721.5,162.9 L723.0,157.6 L725.3,156.8 L727.6,157.6 L730.3,156.1 L732.1,157.6 L733.6,162.1 L735.9,162.9 L737.4,165.2 L740.5,162.6 L742.7,165.9 L744.7,167.4 L746.3,161.2 L748.4,166.5 L751.8,171.8 L754.8,160.5 L757.9,154.4 L759.4,143.8 L761.7,142.3 L763.9,140.8 L765.5,130.2 L767.0,120.8 L768.9,127.9 L770.8,124.1 L772.7,121.8 L774.5,126.4 L776.1,127.2 L777.6,117.3 L779.1,124.1 L780.6,128.7 L782.1,136.2 L783.3,143.1 L785.2,140.8 L786.2,135.9 L788.2,139.3 L790.5,146.1 L792.0,148.4 L793.8,155.9 L795.8,153.7 L798.8,153.2 L800.8,146.8 L802.6,148.4 L804.8,152.9 L807.1,160.5 L809.4,160.5 L811.7,157.5 L814.4,155.6 L815.9,165.0 L817.4,168.8 L818.5,174.9 L820.0,179.4 L821.5,177.2 L823.0,174.4 L824.5,181.5 L826.2,189.5 L827.6,190.0 L829.1,184.7 L831.7,179.6 L833.8,186.0 L836.2,191.5 L838.9,191.0 L842.0,193.0 L844.2,195.3 L848.8,194.5 L851.8,190.8 L854.1,187.7 L856.4,188.0 L859.3,182.0 L862.2,183.4 L864.4,186.6 L866.0,180.0 L866.8,167.8 L868.5,167.0 L869.5,166.5 L871.5,159.7 L873.5,158.7 L875.3,162.0 L876.8,168.1 L877.8,173.0 L878.8,178.3 L880.9,179.0 L882.5,186.2 L883.9,192.0 L885.9,193.8 L887.9,197.6 L889.7,196.1 L891.2,202.9 L892.7,211.2 L894.5,219.5 L896.5,222.6 L898.5,218.8 L900.6,218.8 L902.6,208.9 L904.1,214.2 L905.6,219.5 L907.6,220.3 L910.2,214.2 L912.1,223.3 L914.7,233.9 L917.7,227.9 L920.0,230.2 L923.0,226.4 L924.8,216.5 L926.4,201.4 L927.9,199.8 L930.6,201.1 L932.1,200.6 L933.6,213.5 L935.9,218.8 L938.9,224.8 L941.2,221.8 L943.5,223.3 L945.5,218.0 L947.0,221.8 L948.5,219.2 L949.5,228.6 L951.1,237.0 L952.6,226.4 L953.6,233.2 L955.2,223.3 L956.4,231.7 L957.6,222.6 L958.6,227.1 L960.2,215.8 L961.5,226.0 L962.8,244.1 L963.9,258.5 L965.9,259.2 L967.4,260.8 L969.7,251.7 L971.2,255.5 L973.0,250.2 L975.0,248.3 L977.2,250.2 L979.5,253.9 L981.8,260.0 L983.6,267.6 L985.6,279.7 L987.1,280.5 L989.4,277.4 L990.9,285.0 L992.7,293.3 L993.9,295.6 L995.1,308.9 L996.7,300.2 L998.2,303.2 L1000.0,302.4" fill="none" stroke="#ea3943" stroke-width="2" stroke-linejoin="round" stroke-linecap="round" clip-path="url(#dn)"/>

<!-- mini chart -->
<g stroke="#262c3c" stroke-width="1" shape-rendering="crispEdges">
  <line x1="6" x2="1000" y1="456.5" y2="456.5"/>
</g>
<g stroke="#2a3041" stroke-width="1" shape-rendering="crispEdges">
  <line x1="78.5" x2="78.5" y1="456.5" y2="496.5"/><line x1="180" x2="180" y1="456.5" y2="496.5"/><line x1="283.8" x2="283.8" y1="456.5" y2="496.5"/><line x1="385.5" x2="385.5" y1="456.5" y2="496.5"/><line x1="487.5" x2="487.5" y1="456.5" y2="496.5"/><line x1="585.5" x2="585.5" y1="456.5" y2="496.5"/><line x1="687.5" x2="687.5" y1="456.5" y2="496.5"/><line x1="789.5" x2="789.5" y1="456.5" y2="496.5"/><line x1="892.5" x2="892.5" y1="456.5" y2="496.5"/>
</g>
<path d="M6.2,467.2 L7.0,478.0 L8.1,483.0 L9.6,481.9 L10.7,477.4 L11.9,478.0 L13.3,480.2 L14.7,478.5 L15.8,477.4 L16.9,479.1 L18.6,477.4 L20.3,473.4 L21.4,464.4 L22.4,460.5 L23.5,461.0 L24.3,464.4 L26.0,466.1 L27.7,467.2 L29.6,466.7 L31.0,470.6 L33.3,472.9 L35.0,473.4 L37.3,472.3 L40.1,471.4 L41.5,467.8 L42.9,467.2 L44.0,471.2 L46.3,470.6 L48.0,474.0 L49.7,477.4 L51.4,478.5 L53.1,478.0 L55.3,479.1 L58.1,480.4 L61.0,480.2 L62.7,478.0 L65.5,478.9 L68.9,479.1 L72.3,480.8 L74.5,479.1 L76.5,476.3 L78.1,476.3 L79.6,478.9 L82.4,479.3 L85.8,478.5 L88.1,478.5 L91.4,480.0 L94.8,479.7 L98.2,480.4 L102.7,481.6 L106.1,481.1 L108.9,481.6 L111.2,481.1 L112.9,478.0 L115.1,477.7 L117.4,474.0 L120.2,473.5 L122.5,473.4 L124.8,474.0 L126.4,473.8 L129.1,474.6 L130.9,475.4 L133.1,475.1 L135.2,474.8 L137.0,474.7 L139.7,474.9 L142.2,477.0 L143.8,478.4 L146.1,478.4 L147.7,479.1 L149.9,479.3 L152.6,479.2 L155.3,478.6 L157.9,479.3 L160.7,480.9 L162.4,480.7 L164.2,481.6 L166.3,481.5 L168.3,481.5 L170.3,481.6 L172.6,482.1 L175.4,482.6 L178.1,483.1 L181.0,483.8 L182.7,484.6 L185.5,485.9 L187.8,487.1 L189.6,488.4 L191.9,487.8 L193.6,488.1 L196.4,487.1 L199.0,487.5 L200.7,487.3 L203.3,487.0 L204.9,486.3 L206.5,486.2 L208.5,486.1 L211.3,485.5 L214.2,485.0 L215.8,485.3 L217.4,485.3 L219.5,486.1 L221.2,486.0 L223.9,486.7 L226.7,487.4 L228.7,487.2 L231.0,487.6 L233.3,487.7 L235.7,489.0 L237.9,489.4 L240.4,490.2 L242.3,490.9 L244.5,490.4 L246.1,490.2 L248.4,489.8 L250.7,490.2 L252.4,490.1 L254.5,490.0 L256.5,490.0 L259.0,489.3 L260.7,489.8 L263.5,489.3 L265.6,489.5 L267.6,489.1 L269.5,488.9 L271.8,488.5 L273.9,489.3 L275.5,489.6 L278.0,490.1 L279.8,490.9 L281.7,490.4 L283.8,491.0 L285.4,490.7 L287.4,491.2 L289.5,491.3 L291.3,490.9 L293.7,491.4 L295.8,490.9 L297.5,491.1 L299.3,491.4 L302.0,490.8 L303.9,491.4 L306.3,491.2 L308.3,490.4 L310.2,490.8 L312.1,490.2 L314.2,490.1 L316.3,490.3 L318.0,489.4 L320.8,489.9 L323.6,489.2 L326.4,489.3 L328.3,489.0 L330.9,489.0 L333.1,489.1 L335.1,489.4 L336.8,490.1 L338.7,490.4 L340.3,490.5 L342.7,490.5 L345.5,490.5 L347.8,489.7 L350.3,489.8 L352.2,489.9 L354.4,489.4 L357.2,489.1 L359.2,488.5 L361.9,488.8 L364.5,488.9 L366.3,489.3 L368.9,489.2 L371.5,490.2 L374.1,490.4 L375.6,490.4 L378.3,490.2 L380.2,490.2 L382.4,490.2 L384.6,490.4 L386.1,489.8 L387.9,490.1 L389.5,491.2 L392.2,490.8 L394.4,490.9 L396.3,490.4 L398.7,490.0 L400.7,489.1 L402.7,488.5 L405.0,489.1 L407.0,488.8 L408.8,489.4 L411.1,490.1 L413.2,490.0 L415.5,489.5 L417.6,489.5 L420.0,488.8 L422.5,488.0 L424.3,487.5 L426.8,486.4 L428.9,486.2 L431.6,486.0 L433.6,485.7 L436.2,484.9 L438.4,484.5 L441.0,484.5 L443.7,484.1 L446.1,483.5 L448.4,483.0 L450.7,484.2 L452.5,485.1 L454.1,484.1 L455.7,484.4 L457.5,483.5 L460.1,483.5 L462.8,484.0 L465.4,485.6 L467.8,486.6 L469.3,487.4 L471.6,487.8 L473.2,487.8 L476.0,487.2 L478.0,487.7 L480.6,487.4 L482.4,487.4 L484.7,487.6 L486.8,487.0 L488.9,486.8 L491.0,486.3 L493.2,486.8 L495.2,486.4 L497.0,486.5 L499.5,487.0 L501.8,487.3 L504.1,488.1 L505.9,487.7 L508.4,488.4 L510.6,487.8 L513.1,487.5 L515.0,487.4 L517.3,487.6 L519.2,488.2 L522.0,488.2 L524.4,488.6 L527.1,489.0 L529.0,488.9 L530.6,489.2 L532.6,489.1 L534.6,489.4 L537.2,489.4 L540.0,490.2 L542.4,490.9 L545.0,491.7 L547.3,491.4 L549.8,491.8 L551.8,491.7 L554.7,491.5 L556.5,491.4 L559.0,491.8 L561.8,492.0 L563.7,491.4 L565.5,491.4 L568.0,492.1 L570.7,491.6 L573.4,491.7 L575.5,492.1 L577.2,491.5 L579.8,491.9 L581.8,492.3 L584.2,492.0 L586.2,492.5 L588.4,492.4 L590.7,493.3 L592.8,493.1 L594.5,492.9 L596.9,493.0 L599.6,493.9 L601.3,494.0 L603.3,493.9 L605.8,493.5 L608.3,493.8 L610.9,493.5 L613.4,494.1 L615.8,493.7 L617.5,493.7 L619.5,493.9 L622.0,493.8 L623.8,493.8 L626.1,493.4 L628.8,493.9 L630.5,494.2 L632.3,493.8 L634.8,494.1 L637.0,494.3 L639.2,494.1 L641.0,494.0 L643.4,494.7 L645.7,494.8 L647.7,494.5 L649.8,495.2 L651.4,494.9 L653.2,495.2 L655.2,494.8 L657.3,494.9 L659.9,494.7 L662.5,494.4 L664.4,494.4 L666.1,494.9 L668.6,494.4 L670.4,494.5 L672.9,494.8 L675.4,494.6 L677.2,494.3 L679.0,494.4 L681.3,494.1 L683.1,494.7 L684.7,494.7 L687.4,494.8 L689.5,494.4 L691.8,494.5 L694.6,494.6 L696.5,494.7 L698.7,494.5 L701.2,493.2 L703.8,492.9 L706.0,491.9 L708.1,490.7 L710.4,490.2 L712.6,490.9 L714.7,490.9 L717.5,491.3 L719.2,491.2 L721.6,490.7 L723.6,490.8 L725.2,490.9 L728.0,490.5 L730.7,490.6 L732.4,490.7 L734.7,490.5 L737.2,490.7 L739.2,491.3 L742.0,492.0 L744.1,492.0 L746.3,491.2 L747.9,491.0 L749.7,490.9 L751.9,491.2 L754.1,490.7 L756.5,490.5 L758.7,491.1 L760.8,490.8 L763.5,491.6 L765.5,491.5 L767.7,491.9 L769.6,491.6 L771.4,492.4 L773.1,492.3 L774.9,492.2 L776.7,492.4 L778.4,492.1 L780.1,492.3 L782.3,492.2 L783.9,492.6 L786.0,492.9 L787.6,492.5 L789.6,492.0 L792.5,492.0 L794.1,492.1 L795.9,492.0 L797.9,491.4 L799.5,491.9 L801.4,491.8 L803.5,491.7 L805.5,491.0 L807.4,491.4 L809.7,490.9 L811.4,491.1 L814.2,491.0 L815.8,490.4 L817.4,490.5 L819.0,490.3 L821.4,491.0 L823.2,491.1 L825.4,490.9 L828.1,491.2 L829.7,490.8 L832.1,491.5 L833.7,491.0 L836.4,491.0 L838.4,491.4 L840.9,492.0 L842.6,492.0 L845.2,492.2 L847.4,492.1 L849.4,491.5 L851.3,491.7 L853.5,491.0 L855.2,491.3 L857.6,491.1 L859.6,490.8 L861.4,490.9 L862.9,490.6 L865.5,490.9 L867.1,490.6 L869.8,491.1 L872.5,491.5 L874.6,491.6 L877.1,491.2 L879.2,491.1 L881.2,492.0 L882.9,491.7 L884.6,491.4 L887.0,491.6 L888.6,491.5 L891.0,491.8 L892.5,491.4 L895.4,491.2 L897.6,491.2 L900.2,491.2 L902.8,491.0 L904.6,490.5 L906.2,491.0 L907.9,490.2 L910.7,490.1 L913.4,489.7 L915.6,489.6 L918.2,489.7 L920.6,489.7 L923.3,489.4 L925.7,489.5 L927.3,490.0 L929.7,490.0 L931.5,489.9 L933.6,490.1 L935.3,489.9 L937.4,489.8 L939.7,490.5 L941.8,490.6 L944.2,490.1 L946.2,489.8 L948.1,488.5 L949.8,488.3 L951.6,489.0 L954.0,488.9 L956.9,488.7 L959.7,489.9 L961.8,491.5 L964.5,491.6 L966.7,491.6 L968.7,491.9 L971.5,491.3 L974.3,491.4 L975.9,491.9 L977.9,491.8 L980.2,491.5 L982.8,491.7 L984.9,491.8 L987.4,492.2 L989.3,491.6 L991.3,492.0 L992.9,491.8 L995.4,492.3 L998.3,492.7 L1000.0,492.3 L1000.0,496.5 L6.2,496.5 Z" fill="#232848" fill-opacity="0.93"/>
<path d="M6.2,467.2 L7.0,478.0 L8.1,483.0 L9.6,481.9 L10.7,477.4 L11.9,478.0 L13.3,480.2 L14.7,478.5 L15.8,477.4 L16.9,479.1 L18.6,477.4 L20.3,473.4 L21.4,464.4 L22.4,460.5 L23.5,461.0 L24.3,464.4 L26.0,466.1 L27.7,467.2 L29.6,466.7 L31.0,470.6 L33.3,472.9 L35.0,473.4 L37.3,472.3 L40.1,471.4 L41.5,467.8 L42.9,467.2 L44.0,471.2 L46.3,470.6 L48.0,474.0 L49.7,477.4 L51.4,478.5 L53.1,478.0 L55.3,479.1 L58.1,480.4 L61.0,480.2 L62.7,478.0 L65.5,478.9 L68.9,479.1 L72.3,480.8 L74.5,479.1 L76.5,476.3 L78.1,476.3 L79.6,478.9 L82.4,479.3 L85.8,478.5 L88.1,478.5 L91.4,480.0 L94.8,479.7 L98.2,480.4 L102.7,481.6 L106.1,481.1 L108.9,481.6 L111.2,481.1 L112.9,478.0 L115.1,477.7 L117.4,474.0 L120.2,473.5 L122.5,473.4 L124.8,474.0 L126.4,473.8 L129.1,474.6 L130.9,475.4 L133.1,475.1 L135.2,474.8 L137.0,474.7 L139.7,474.9 L142.2,477.0 L143.8,478.4 L146.1,478.4 L147.7,479.1 L149.9,479.3 L152.6,479.2 L155.3,478.6 L157.9,479.3 L160.7,480.9 L162.4,480.7 L164.2,481.6 L166.3,481.5 L168.3,481.5 L170.3,481.6 L172.6,482.1 L175.4,482.6 L178.1,483.1 L181.0,483.8 L182.7,484.6 L185.5,485.9 L187.8,487.1 L189.6,488.4 L191.9,487.8 L193.6,488.1 L196.4,487.1 L199.0,487.5 L200.7,487.3 L203.3,487.0 L204.9,486.3 L206.5,486.2 L208.5,486.1 L211.3,485.5 L214.2,485.0 L215.8,485.3 L217.4,485.3 L219.5,486.1 L221.2,486.0 L223.9,486.7 L226.7,487.4 L228.7,487.2 L231.0,487.6 L233.3,487.7 L235.7,489.0 L237.9,489.4 L240.4,490.2 L242.3,490.9 L244.5,490.4 L246.1,490.2 L248.4,489.8 L250.7,490.2 L252.4,490.1 L254.5,490.0 L256.5,490.0 L259.0,489.3 L260.7,489.8 L263.5,489.3 L265.6,489.5 L267.6,489.1 L269.5,488.9 L271.8,488.5 L273.9,489.3 L275.5,489.6 L278.0,490.1 L279.8,490.9 L281.7,490.4 L283.8,491.0 L285.4,490.7 L287.4,491.2 L289.5,491.3 L291.3,490.9 L293.7,491.4 L295.8,490.9 L297.5,491.1 L299.3,491.4 L302.0,490.8 L303.9,491.4 L306.3,491.2 L308.3,490.4 L310.2,490.8 L312.1,490.2 L314.2,490.1 L316.3,490.3 L318.0,489.4 L320.8,489.9 L323.6,489.2 L326.4,489.3 L328.3,489.0 L330.9,489.0 L333.1,489.1 L335.1,489.4 L336.8,490.1 L338.7,490.4 L340.3,490.5 L342.7,490.5 L345.5,490.5 L347.8,489.7 L350.3,489.8 L352.2,489.9 L354.4,489.4 L357.2,489.1 L359.2,488.5 L361.9,488.8 L364.5,488.9 L366.3,489.3 L368.9,489.2 L371.5,490.2 L374.1,490.4 L375.6,490.4 L378.3,490.2 L380.2,490.2 L382.4,490.2 L384.6,490.4 L386.1,489.8 L387.9,490.1 L389.5,491.2 L392.2,490.8 L394.4,490.9 L396.3,490.4 L398.7,490.0 L400.7,489.1 L402.7,488.5 L405.0,489.1 L407.0,488.8 L408.8,489.4 L411.1,490.1 L413.2,490.0 L415.5,489.5 L417.6,489.5 L420.0,488.8 L422.5,488.0 L424.3,487.5 L426.8,486.4 L428.9,486.2 L431.6,486.0 L433.6,485.7 L436.2,484.9 L438.4,484.5 L441.0,484.5 L443.7,484.1 L446.1,483.5 L448.4,483.0 L450.7,484.2 L452.5,485.1 L454.1,484.1 L455.7,484.4 L457.5,483.5 L460.1,483.5 L462.8,484.0 L465.4,485.6 L467.8,486.6 L469.3,487.4 L471.6,487.8 L473.2,487.8 L476.0,487.2 L478.0,487.7 L480.6,487.4 L482.4,487.4 L484.7,487.6 L486.8,487.0 L488.9,486.8 L491.0,486.3 L493.2,486.8 L495.2,486.4 L497.0,486.5 L499.5,487.0 L501.8,487.3 L504.1,488.1 L505.9,487.7 L508.4,488.4 L510.6,487.8 L513.1,487.5 L515.0,487.4 L517.3,487.6 L519.2,488.2 L522.0,488.2 L524.4,488.6 L527.1,489.0 L529.0,488.9 L530.6,489.2 L532.6,489.1 L534.6,489.4 L537.2,489.4 L540.0,490.2 L542.4,490.9 L545.0,491.7 L547.3,491.4 L549.8,491.8 L551.8,491.7 L554.7,491.5 L556.5,491.4 L559.0,491.8 L561.8,492.0 L563.7,491.4 L565.5,491.4 L568.0,492.1 L570.7,491.6 L573.4,491.7 L575.5,492.1 L577.2,491.5 L579.8,491.9 L581.8,492.3 L584.2,492.0 L586.2,492.5 L588.4,492.4 L590.7,493.3 L592.8,493.1 L594.5,492.9 L596.9,493.0 L599.6,493.9 L601.3,494.0 L603.3,493.9 L605.8,493.5 L608.3,493.8 L610.9,493.5 L613.4,494.1 L615.8,493.7 L617.5,493.7 L619.5,493.9 L622.0,493.8 L623.8,493.8 L626.1,493.4 L628.8,493.9 L630.5,494.2 L632.3,493.8 L634.8,494.1 L637.0,494.3 L639.2,494.1 L641.0,494.0 L643.4,494.7 L645.7,494.8 L647.7,494.5 L649.8,495.2 L651.4,494.9 L653.2,495.2 L655.2,494.8 L657.3,494.9 L659.9,494.7 L662.5,494.4 L664.4,494.4 L666.1,494.9 L668.6,494.4 L670.4,494.5 L672.9,494.8 L675.4,494.6 L677.2,494.3 L679.0,494.4 L681.3,494.1 L683.1,494.7 L684.7,494.7 L687.4,494.8 L689.5,494.4 L691.8,494.5 L694.6,494.6 L696.5,494.7 L698.7,494.5 L701.2,493.2 L703.8,492.9 L706.0,491.9 L708.1,490.7 L710.4,490.2 L712.6,490.9 L714.7,490.9 L717.5,491.3 L719.2,491.2 L721.6,490.7 L723.6,490.8 L725.2,490.9 L728.0,490.5 L730.7,490.6 L732.4,490.7 L734.7,490.5 L737.2,490.7 L739.2,491.3 L742.0,492.0 L744.1,492.0 L746.3,491.2 L747.9,491.0 L749.7,490.9 L751.9,491.2 L754.1,490.7 L756.5,490.5 L758.7,491.1 L760.8,490.8 L763.5,491.6 L765.5,491.5 L767.7,491.9 L769.6,491.6 L771.4,492.4 L773.1,492.3 L774.9,492.2 L776.7,492.4 L778.4,492.1 L780.1,492.3 L782.3,492.2 L783.9,492.6 L786.0,492.9 L787.6,492.5 L789.6,492.0 L792.5,492.0 L794.1,492.1 L795.9,492.0 L797.9,491.4 L799.5,491.9 L801.4,491.8 L803.5,491.7 L805.5,491.0 L807.4,491.4 L809.7,490.9 L811.4,491.1 L814.2,491.0 L815.8,490.4 L817.4,490.5 L819.0,490.3 L821.4,491.0 L823.2,491.1 L825.4,490.9 L828.1,491.2 L829.7,490.8 L832.1,491.5 L833.7,491.0 L836.4,491.0 L838.4,491.4 L840.9,492.0 L842.6,492.0 L845.2,492.2 L847.4,492.1 L849.4,491.5 L851.3,491.7 L853.5,491.0 L855.2,491.3 L857.6,491.1 L859.6,490.8 L861.4,490.9 L862.9,490.6 L865.5,490.9 L867.1,490.6 L869.8,491.1 L872.5,491.5 L874.6,491.6 L877.1,491.2 L879.2,491.1 L881.2,492.0 L882.9,491.7 L884.6,491.4 L887.0,491.6 L888.6,491.5 L891.0,491.8 L892.5,491.4 L895.4,491.2 L897.6,491.2 L900.2,491.2 L902.8,491.0 L904.6,490.5 L906.2,491.0 L907.9,490.2 L910.7,490.1 L913.4,489.7 L915.6,489.6 L918.2,489.7 L920.6,489.7 L923.3,489.4 L925.7,489.5 L927.3,490.0 L929.7,490.0 L931.5,489.9 L933.6,490.1 L935.3,489.9 L937.4,489.8 L939.7,490.5 L941.8,490.6 L944.2,490.1 L946.2,489.8 L948.1,488.5 L949.8,488.3 L951.6,489.0 L954.0,488.9 L956.9,488.7 L959.7,489.9 L961.8,491.5 L964.5,491.6 L966.7,491.6 L968.7,491.9 L971.5,491.3 L974.3,491.4 L975.9,491.9 L977.9,491.8 L980.2,491.5 L982.8,491.7 L984.9,491.8 L987.4,492.2 L989.3,491.6 L991.3,492.0 L992.9,491.8 L995.4,492.3 L998.3,492.7 L1000.0,492.3" fill="none" stroke="#4b6fdc" stroke-width="1.25" stroke-linejoin="round"/>
<rect x="987.5" y="456" width="12.5" height="41" fill="#3b4a8a" fill-opacity="0.22"/>
<line x1="987.5" x2="987.5" y1="456" y2="497" stroke="#4a5a9a" stroke-width="1" stroke-opacity="0.4"/>
<line x1="994.5" x2="994.5" y1="456" y2="497" stroke="#4a5a9a" stroke-width="1" stroke-opacity="0.4"/>
<line x1="999.5" x2="999.5" y1="456" y2="497" stroke="#4a5a9a" stroke-width="1" stroke-opacity="0.4"/>
<circle cx="987.3" cy="475.7" r="7" fill="#1d222f"/>
<circle cx="999.2" cy="475.7" r="7" fill="#1d222f"/>
<g stroke="#e4e6ee" stroke-width="1.1">
  <path d="M986.1 472.7V478.7 M988.5 472.7V478.7 M998 472.7V478.7 M1000.4 472.7V478.7"/>
</g>

<!-- CMC logo -->
<g fill="none" stroke="#e8eaf0" stroke-width="2.2" stroke-linecap="round" stroke-linejoin="round">
  <path d="M867.6 352.8 A10.7 10.7 0 1 0 864.3 360.6"/>
  <path d="M849.2 357.7 L854.2 349.4 Q856 347 856.1 350.6 L856.4 356.6 L860.7 349.4 Q862.4 347.2 862.5 350.8 L862.8 354.4 Q863.2 357.4 865.4 356.3 Q867.5 355 867.6 352.8" stroke-width="2.1"/>
</g>

<!-- history badge -->
<path d="M6.5 439.4 L13.8 431.8 Q17 427.4 22.5 427.4 H33.3 A12 12 0 0 1 33.3 451.6 H22.5 Q17 451.6 13.8 447.2 Z" fill="#7b8095"/>
<g fill="none" stroke="#fff" stroke-width="1.5" stroke-linecap="round" stroke-linejoin="round">
  <path d="M17.3 436.5 A5 5 0 1 1 17 441.2"/>
  <path d="M16.2 434.6 L17.1 437 L19.6 436.4"/>
  <path d="M21.7 437 V439.8 L23.7 441"/>
</g>

<!-- analyze -->
<path d="M953.7 428.3 L957 424.3 L960.3 428.3 Z" fill="#3861fb"/>
<rect x="913.9" y="428.1" width="86.2" height="23.8" rx="11.9" fill="#3861fb"/>
<g fill="none" stroke="#fff" stroke-width="1.4" stroke-linecap="round" stroke-linejoin="round">
  <path d="M923.2 446.3 L922.5 442.9 A6.2 6.2 0 1 1 925.6 445.6 Z"/>
  <path d="M924.4 441.8 L927.4 437.6 L928.5 440.4 L930.3 437.9 L931.8 441.3" stroke-width="1.5"/>
  <path d="M985.6 437 L988.8 440.9 L985.6 444.8" stroke-width="1.4"/>
</g>

<!-- price tag -->
<rect x="1000" y="290.2" width="44" height="25.6" rx="3" fill="#ea3943"/>
</svg>

<div style="position:absolute;left:876.7px;top:343.8px;font-size:14.8px;font-weight:bold;color:#e8eaf0;line-height:20px;letter-spacing:0">CoinMarketCap</div>
<div style="position:absolute;left:1000.5px;top:295px;width:43.5px;text-align:center;font-size:11.5px;letter-spacing:0.45px;font-weight:bold;color:#fff;line-height:16px">0.848</div>
<div style="position:absolute;left:8px;top:164.7px;width:46px;height:21.8px;border-radius:6px;background:#232836;opacity:0.97"></div>
<div style="position:absolute;left:8px;top:165.6px;width:46px;height:21.8px;text-align:center;font-size:11.5px;letter-spacing:0.3px;font-weight:bold;color:#969cb1;line-height:21.5px">0.9824</div>
<div style="position:absolute;left:32.6px;top:430.7px;font-size:11.5px;font-weight:bold;color:#fff;line-height:16px">2</div>
<div style="position:absolute;left:938.3px;top:432.1px;font-size:11.1px;font-weight:bold;color:#fff;line-height:16px">Analyze</div>
<div style="position:absolute;left:1013.5px;top:391px;font-size:12px;font-weight:bold;color:#a1a7bb;line-height:16px">USD</div>
<div class="yl" style="top:99.6px;letter-spacing:-0.15px">1.05</div><div class="yl" style="top:148.6px;letter-spacing:-0.15px">1.00</div><div class="yl" style="top:196.6px">0.950</div><div class="yl" style="top:244.6px">0.900</div><div class="yl" style="top:341.6px">0.80</div>
<div class="xl" style="left:6.5px;transform:none;letter-spacing:0.2px">28 Oct</div><div class="xl" style="left:89.3px">12:00 PM</div><div class="xl" style="left:159.9px">29 Oct</div><div class="xl" style="left:230.6px">12:00 PM</div><div class="xl" style="left:301.2px">30 Oct</div><div class="xl" style="left:371.9px">12:00 PM</div><div class="xl" style="left:442.6px">31 Oct</div><div class="xl" style="left:513.2px">12:00 PM</div><div class="xl" style="left:583.9px">1 Nov</div><div class="xl" style="left:654.5px">12:00 PM</div><div class="xl" style="left:725.1px">2 Nov</div><div class="xl" style="left:795.8px">12:00 PM</div><div class="xl" style="left:866.5px">3 Nov</div><div class="xl" style="left:937.1px">12:00 PM</div>
<div class="ml" style="left:78.5px">May '24</div><div class="ml" style="left:180px">Jul '24</div><div class="ml" style="left:283.8px">Sep '24</div><div class="ml" style="left:385.5px">Nov '24</div><div class="ml" style="left:487.5px">Jan '25</div><div class="ml" style="left:585.5px">Mar '25</div><div class="ml" style="left:687.5px">May '25</div><div class="ml" style="left:789.5px">Jul '25</div><div class="ml" style="left:892.5px">Sep '25</div><div class="ml" style="left:995px">Nov '25</div>
</div></body></html>
